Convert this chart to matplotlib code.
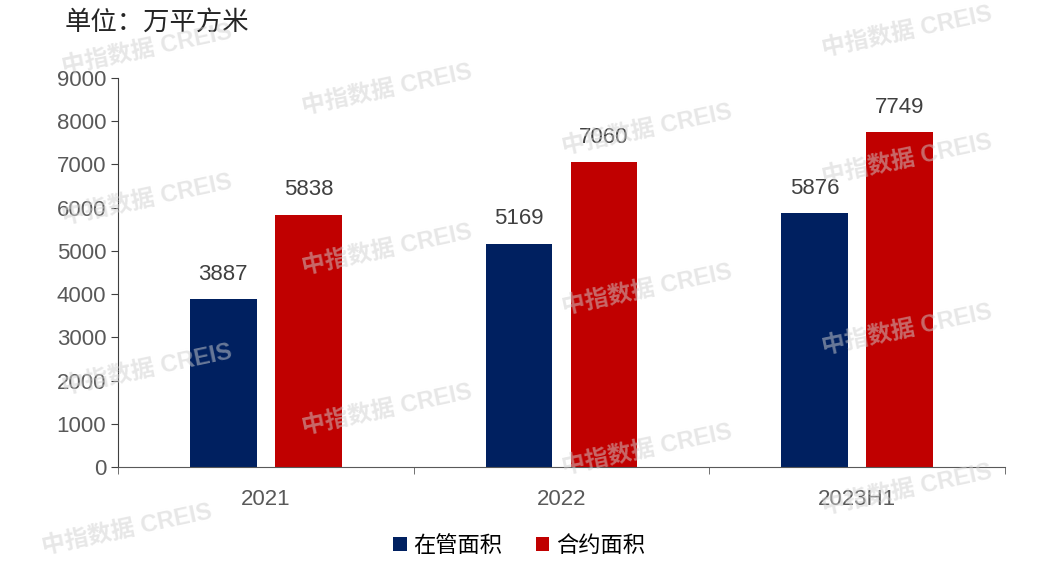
import matplotlib.pyplot as plt
import numpy as np

plt.rcParams['font.family'] = ['Liberation Sans', 'Noto Sans CJK SC', 'DejaVu Sans']

categories = ["2021", "2022", "2023H1"]
managed = [3887, 5169, 5876]     # 在管面积
contract = [5838, 7060, 7749]    # 合约面积
series_names = ["在管面积", "合约面积"]

fig = plt.figure(figsize=(10.38, 5.66), dpi=100)
ax = fig.add_axes([118/1038, 1-467/566, 887/1038, 389/566])

x = np.arange(len(categories))
w = 0.226
off = 0.144
b1 = ax.bar(x - off, managed, w, color="#002060", label=series_names[0])
b2 = ax.bar(x + off, contract, w, color="#C00000", label=series_names[1])
for bars in (b1, b2):
    for r in bars:
        ax.text(r.get_x() + r.get_width()/2, r.get_height() + 330, f"{int(r.get_height())}",
                ha="center", va="bottom", fontsize=16, color="#404040")

ax.set_xlim(-0.5, 2.5)
ax.set_ylim(0, 9000)
ax.set_yticks(range(0, 9001, 1000))
ax.set_xticks(x)
ax.set_xticklabels(categories)
ax.set_xticks([-0.5, 0.5, 1.5, 2.5], minor=True)
ax.tick_params(axis="x", which="major", length=0, pad=16, labelsize=16, labelcolor="#595959")
ax.tick_params(axis="x", which="minor", length=5, direction="out", color="#595959")
ax.tick_params(axis="y", length=5, labelsize=16, labelcolor="#595959", color="#404040")
for s in ("top", "right"):
    ax.spines[s].set_visible(False)
ax.spines["left"].set_color("#404040")
ax.spines["bottom"].set_color("#595959")

fig.text(65/1038, 1-22/566, "单位：万平方米", fontsize=19, color="#262626", va="center")

# faint watermarks
for px, py in [(60, 50), (300, 90), (560, 130), (820, 160), (60, 200), (300, 250), (560, 290),
               (820, 330), (60, 370), (300, 410), (560, 450), (820, 490), (40, 530), (820, 32)]:
    fig.text(px/1038, 1-py/566, "中指数据 CREIS", fontsize=17, color="#d0d0d0",
             alpha=0.5, rotation=12, ha="left", va="center", fontweight="bold")

fig.legend(loc="center", bbox_to_anchor=(0.5, 1-546/566), ncol=2, frameon=False,
           fontsize=16, handlelength=0.6, handleheight=0.6, handletextpad=0.3, columnspacing=1.5)

fig.savefig("out.png", dpi=100)
